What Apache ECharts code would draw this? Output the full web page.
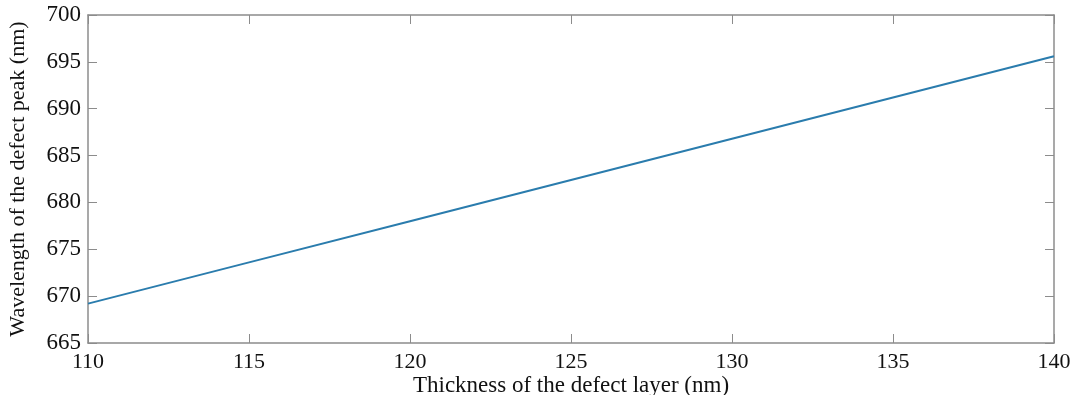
<!DOCTYPE html>
<html>
<head>
<meta charset="utf-8">
<script src="https://cdn.jsdelivr.net/npm/echarts@6/dist/echarts.min.js"></script>
<style>
  html, body { margin: 0; padding: 0; background: #fff; }
  #chart { width: 1076px; height: 395px; }
</style>
</head>
<body>
<div id="chart"></div>
<script>
// thickness of the defect layer (nm)
var thickness = [110, 115, 120, 125, 130, 135, 140];
// wavelength of the defect peak (nm)
var wavelength = [669.2, 673.6, 678.0, 682.4, 686.8, 691.2, 695.6];

var serif = '"Liberation Serif", "DejaVu Serif", serif';
var axisGray = '#8c8c8c';

var points = thickness.map(function (t, i) { return [t, wavelength[i]]; });

var chart = echarts.init(document.getElementById('chart'));
chart.setOption({
  animation: false,
  grid: { left: 88, right: 22, top: 15, bottom: 52, outerBoundsMode: 'none', containLabel: false },
  xAxis: [
    {
      type: 'value', min: 110, max: 140, interval: 5,
      name: 'Thickness of the defect layer (nm)',
      nameLocation: 'middle', nameGap: 31, nameMoveOverlap: false,
      nameTextStyle: { fontFamily: serif, fontSize: 23, color: '#111' },
      axisLine: { show: true, lineStyle: { color: axisGray, width: 1.5 } },
      axisTick: { inside: true, length: 9, lineStyle: { color: axisGray } },
      axisLabel: { fontFamily: serif, fontSize: 22, color: '#111', margin: 8 },
      splitLine: { show: false }
    },
    {
      type: 'value', min: 110, max: 140, interval: 5, position: 'top',
      axisLine: { show: true, lineStyle: { color: axisGray, width: 1.5 } },
      axisTick: { inside: true, length: 9, lineStyle: { color: axisGray } },
      axisLabel: { show: false },
      splitLine: { show: false }
    }
  ],
  yAxis: [
    {
      type: 'value', min: 665, max: 700, interval: 5,
      name: 'Wavelength of the defect peak (nm)',
      nameLocation: 'middle', nameGap: 59, nameMoveOverlap: false,
      nameTextStyle: { fontFamily: serif, fontSize: 22, color: '#111' },
      axisLine: { show: true, lineStyle: { color: axisGray, width: 1.5 } },
      axisTick: { inside: true, length: 9, lineStyle: { color: axisGray } },
      axisLabel: { fontFamily: serif, fontSize: 23, color: '#111', margin: 7 },
      splitLine: { show: false }
    },
    {
      type: 'value', min: 665, max: 700, interval: 5, position: 'right',
      axisLine: { show: true, lineStyle: { color: axisGray, width: 1.5 } },
      axisTick: { inside: true, length: 9, lineStyle: { color: axisGray } },
      axisLabel: { show: false },
      splitLine: { show: false }
    }
  ],
  series: [{
    type: 'line',
    data: points,
    showSymbol: false,
    lineStyle: { color: '#2a7cad', width: 2 }
  }]
});
</script>
</body>
</html>
